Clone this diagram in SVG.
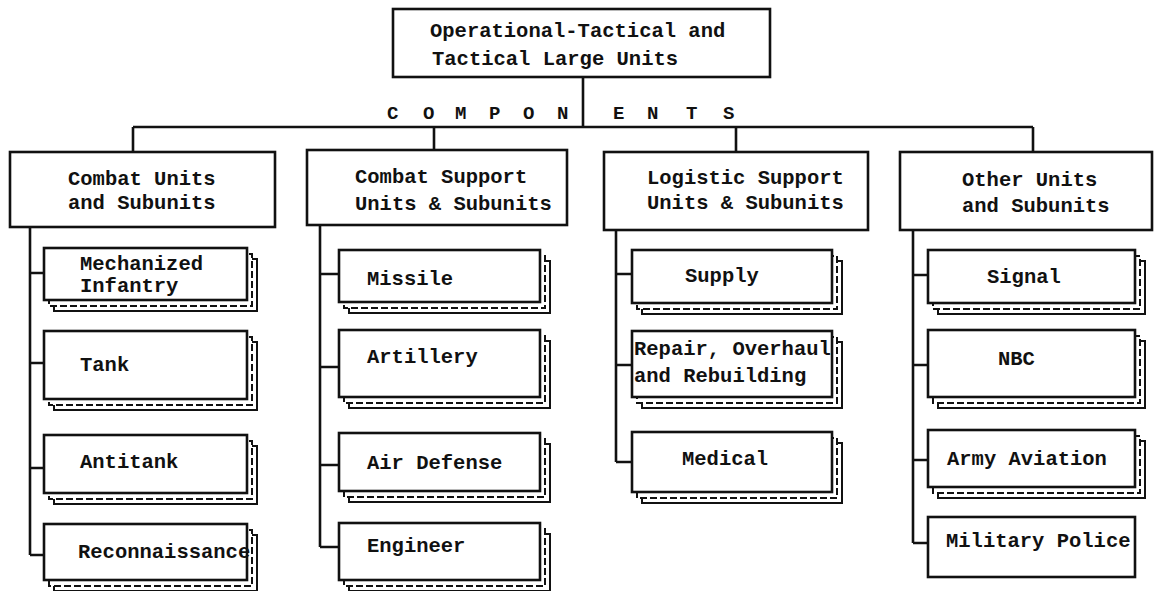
<svg xmlns="http://www.w3.org/2000/svg" width="1155" height="591" viewBox="0 0 1155 591">
<style>
text{font-family:"Liberation Mono","Courier New",monospace;font-size:20.5px;font-weight:bold;fill:#111}
.m{fill:#fff;stroke:#111;stroke-width:2.6}
.b{fill:#fff;stroke:#111;stroke-width:2}
.d{fill:#fff;stroke:#111;stroke-width:2;stroke-dasharray:7 3}
.c{fill:none;stroke:#111;stroke-width:2.6}
.comp{font-size:19px;font-weight:bold}
</style>
<rect width="1155" height="591" fill="#fff"/>
<g id="connectors" class="c">
<path d="M583 77V127M133 127H1033M133 127V152M434 127V150M736 127V152M1033 127V152"/>
<path d="M30 227V555M30 273H44M30 363H44M30 468H44M30 555H44"/>
<path d="M320 225V547M320 274H339M320 367H339M320 465H339M320 547H339"/>
<path d="M616 230V462M616 274H632M616 365H632M616 462H632"/>
<path d="M913 230V543M913 275H928M913 365H928M913 460H928M913 543H928"/>
</g>
<g id="top">
<rect class="m" x="393" y="9" width="377" height="68"/>
<text x="430" y="37">Operational-Tactical and</text>
<text x="432" y="65">Tactical Large Units</text>
</g>
<text class="comp" x="387 423 455 489 523 557 613 647 686 723" y="119">COMPONENTS</text>
<g id="h1"><rect class="m" x="10" y="152" width="265" height="75"/><text x="68" y="185">Combat Units</text><text x="68" y="209">and Subunits</text></g>
<g id="h2"><rect class="m" x="307" y="150" width="260" height="75"/><text x="355" y="183">Combat Support</text><text x="355" y="210">Units &amp; Subunits</text></g>
<g id="h3"><rect class="m" x="604" y="152" width="264" height="78"/><text x="647" y="184">Logistic Support</text><text x="647" y="209">Units &amp; Subunits</text></g>
<g id="h4"><rect class="m" x="900" y="152" width="252" height="78"/><text x="962" y="186">Other Units</text><text x="962" y="212">and Subunits</text></g>

<g id="mech"><rect class="b" x="54" y="259" width="203" height="52"/><rect class="d" x="49" y="254" width="203" height="52"/><rect class="m" x="44" y="248" width="203" height="52"/><text x="80" y="270">Mechanized</text><text x="80" y="292">Infantry</text></g>
<g id="tank"><rect class="b" x="54" y="342" width="203" height="68"/><rect class="d" x="49" y="337" width="203" height="68"/><rect class="m" x="44" y="331" width="203" height="68"/><text x="80" y="371">Tank</text></g>
<g id="antitank"><rect class="b" x="54" y="446" width="203" height="58"/><rect class="d" x="49" y="441" width="203" height="58"/><rect class="m" x="44" y="435" width="203" height="58"/><text x="80" y="468">Antitank</text></g>
<g id="recon"><rect class="b" x="54" y="535" width="203" height="56"/><rect class="d" x="49" y="530" width="203" height="56"/><rect class="m" x="44" y="524" width="203" height="56"/><text x="78" y="558">Reconnaissance</text></g>

<g id="missile"><rect class="b" x="349" y="261" width="201" height="52"/><rect class="d" x="344" y="256" width="201" height="52"/><rect class="m" x="339" y="250" width="201" height="52"/><text x="367" y="285">Missile</text></g>
<g id="artillery"><rect class="b" x="349" y="341" width="201" height="67"/><rect class="d" x="344" y="336" width="201" height="67"/><rect class="m" x="339" y="330" width="201" height="67"/><text x="367" y="363">Artillery</text></g>
<g id="airdef"><rect class="b" x="349" y="444" width="201" height="58"/><rect class="d" x="344" y="439" width="201" height="58"/><rect class="m" x="339" y="433" width="201" height="58"/><text x="367" y="469">Air Defense</text></g>
<g id="engineer"><rect class="b" x="349" y="534" width="201" height="57"/><rect class="d" x="344" y="529" width="201" height="57"/><rect class="m" x="339" y="523" width="201" height="57"/><text x="367" y="552">Engineer</text></g>

<g id="supply"><rect class="b" x="642" y="261" width="200" height="53"/><rect class="d" x="637" y="256" width="200" height="53"/><rect class="m" x="632" y="250" width="200" height="53"/><text x="685" y="282">Supply</text></g>
<g id="repair"><rect class="b" x="642" y="342" width="200" height="66"/><rect class="d" x="637" y="337" width="200" height="66"/><rect class="m" x="632" y="331" width="200" height="66"/><text x="634" y="355">Repair, Overhaul</text><text x="634" y="382">and Rebuilding</text></g>
<g id="medical"><rect class="b" x="642" y="443" width="200" height="60"/><rect class="d" x="637" y="438" width="200" height="60"/><rect class="m" x="632" y="432" width="200" height="60"/><text x="682" y="465">Medical</text></g>

<g id="signal"><rect class="b" x="938" y="261" width="207" height="53"/><rect class="d" x="933" y="256" width="207" height="53"/><rect class="m" x="928" y="250" width="207" height="53"/><text x="987" y="283">Signal</text></g>
<g id="nbc"><rect class="b" x="938" y="341" width="207" height="67"/><rect class="d" x="933" y="336" width="207" height="67"/><rect class="m" x="928" y="330" width="207" height="67"/><text x="998" y="365">NBC</text></g>
<g id="aviation"><rect class="b" x="938" y="441" width="207" height="57"/><rect class="d" x="933" y="436" width="207" height="57"/><rect class="m" x="928" y="430" width="207" height="57"/><text x="947" y="465">Army Aviation</text></g>
<g id="mp"><rect class="m" x="928" y="517" width="207" height="60"/><text x="946" y="547">Military Police</text></g>
</svg>
